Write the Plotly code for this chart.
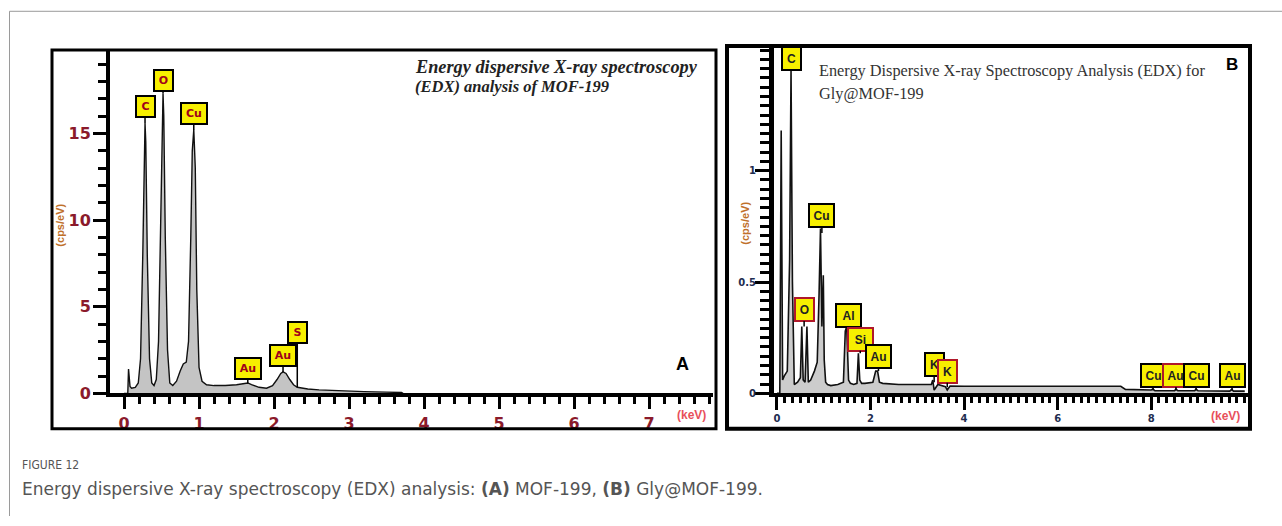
import plotly.graph_objects as go

W, H = 1282, 526

# ---------------- data: panel A (MOF-199) ----------------
A_kev = [0.00, 0.05, 0.06, 0.07, 0.08, 0.10, 0.15, 0.19, 0.22, 0.25, 0.27, 0.28, 0.29, 0.31, 0.34,
         0.37, 0.40, 0.43, 0.46, 0.49, 0.51, 0.52, 0.53, 0.55, 0.58, 0.61, 0.65, 0.70, 0.75, 0.79,
         0.83, 0.86, 0.89, 0.91, 0.93, 0.95, 0.97, 1.00, 1.04, 1.10, 1.20, 1.35, 1.50, 1.60, 1.65,
         1.70, 1.80, 1.90, 1.98, 2.04, 2.09, 2.12, 2.16, 2.21, 2.26, 2.31, 2.36, 2.45, 2.60, 2.85,
         3.20, 3.50, 3.70, 3.72]
A_cps = [0.0, 0.0, 1.4, 0.9, 0.4, 0.3, 0.35, 0.6, 2.0, 8.0, 14.0, 15.6, 14.5, 8.0, 2.0,
         0.6, 0.45, 0.8, 3.0, 10.0, 16.5, 17.3, 16.0, 9.0, 2.5, 0.6, 0.45, 0.7, 1.3, 1.7,
         1.8, 3.0, 9.0, 14.0, 15.2, 13.0, 6.0, 1.5, 0.7, 0.5, 0.45, 0.45, 0.5, 0.55, 0.6,
         0.5, 0.35, 0.3, 0.45, 0.8, 1.15, 1.24, 1.15, 0.8, 0.5, 0.35, 0.3, 0.25, 0.2, 0.15,
         0.1, 0.07, 0.05, 0.0]
A_lab_text = ["C", "O", "Cu", "Au", "Au", "S"]
A_lab_kev = [0.28, 0.52, 0.93, 1.65, 2.12, 2.31]
A_lab_cps = [15.6, 17.3, 15.2, 0.55, 1.24, 0.35]
A_xticks = [0, 1, 2, 3, 4, 5, 6, 7]
A_yticks = [0, 5, 10, 15]

# ---------------- data: panel B (Gly@MOF-199) ----------------
B_kev = [0.00, 0.06, 0.09, 0.12, 0.16, 0.22, 0.27, 0.30, 0.33, 0.37, 0.44, 0.50, 0.53, 0.56, 0.60,
         0.64, 0.67, 0.72, 0.80, 0.86, 0.90, 0.93, 0.96, 0.99, 1.01, 1.04, 1.08, 1.15, 1.30, 1.42,
         1.46, 1.49, 1.53, 1.57, 1.64, 1.71, 1.74, 1.77, 1.81, 1.88, 2.05, 2.11, 2.15, 2.19, 2.26,
         2.60, 3.20, 3.30, 3.33, 3.36, 3.44, 3.55, 3.60, 3.64, 3.70, 4.00, 5.50, 7.35, 7.45, 8.00,
         8.04, 8.08, 8.50, 8.53, 8.57, 8.93, 8.96, 9.00, 9.68, 9.72, 9.76, 10.0]
B_cps = [0.0, 0.0, 1.18, 0.06, 0.08, 0.10, 0.60, 1.45, 0.50, 0.04, 0.05, 0.07, 0.30, 0.06, 0.05,
         0.30, 0.05, 0.06, 0.10, 0.14, 0.45, 0.74, 0.30, 0.53, 0.15, 0.05, 0.04, 0.035, 0.04, 0.05,
         0.28, 0.30, 0.06, 0.045, 0.04, 0.045, 0.18, 0.06, 0.045, 0.045, 0.05, 0.10, 0.10, 0.05, 0.045,
         0.04, 0.04, 0.04, 0.06, 0.015, 0.04, 0.035, 0.03, 0.015, 0.033, 0.032, 0.032, 0.032, 0.018, 0.015,
         0.02, 0.012, 0.012, 0.02, 0.012, 0.012, 0.02, 0.012, 0.01, 0.018, 0.01, 0.01]
B_lab_text = ["C", "Cu", "O", "Al", "Si", "Au", "K", "K", "Cu", "Au", "Cu", "Au"]
B_lab_kev = [0.30, 0.96, 0.58, 1.52, 1.78, 2.17, 3.36, 3.64, 8.04, 8.53, 8.96, 9.73]
B_lab_cps = [1.45, 0.72, 0.30, 0.28, 0.18, 0.10, 0.05, 0.027, 0.013, 0.013, 0.013, 0.013]
B_lab_red = [False, False, True, False, True, False, False, True, False, True, False, False]
B_xticks = [0, 2, 4, 6, 8]
B_yticks = [0, 0.5, 1]

assert len(A_kev) == len(A_cps) and len(B_kev) == len(B_cps)

# ---------------- helpers (pixel -> paper) ----------------
def px(x):
    return x / W

def py(y):
    return 1 - y / H

# label offsets (pixels, style only)
A_lab_dy = [-16, -13, -16, -15, -16, -55]
B_lab_dy = [-12, -18, -17, -16, -14, -15, -18, -16, -15, -15, -15, -15]

MAROON = "#8b1a2b"
NAVY = "#1e2d50"
ORANGE = "#c0702a"
PINK = "#e8505b"
YELLOW = "#f7ef00"

fig = go.Figure()

fig.add_trace(go.Scatter(x=A_kev, y=A_cps, mode="lines", fill="tozeroy",
                         fillcolor="#c4c4c4", line=dict(color="#111", width=1.4),
                         xaxis="x", yaxis="y", hoverinfo="skip", showlegend=False))
fig.add_trace(go.Scatter(x=B_kev, y=B_cps, mode="lines", fill="tozeroy",
                         fillcolor="#cccccc", line=dict(color="#111", width=1.6),
                         xaxis="x2", yaxis="y2", hoverinfo="skip", showlegend=False))

ax_common = dict(showgrid=False, zeroline=False, showline=True, linecolor="black",
                 ticks="outside", tickcolor="black", fixedrange=True)

fig.update_layout(
    width=W, height=H, autosize=False,
    margin=dict(l=0, r=0, t=0, b=0),
    paper_bgcolor="white", plot_bgcolor="white",
    xaxis=dict(**ax_common, domain=[px(110), px(713)], range=[-0.187, 7.853], anchor="y",
               linewidth=4, tickmode="array", tickvals=A_xticks, ticklen=12, tickwidth=3,
               minor=dict(dtick=0.2, tick0=0, ticklen=7, tickwidth=3, ticks="outside", tickcolor="black"),
               tickfont=dict(family="DejaVu Sans", size=16, color=MAROON, weight="bold")),
    yaxis=dict(**ax_common, domain=[py(401), py(52)], range=[0, 19.75], anchor="x",
               linewidth=4, tickmode="array", tickvals=A_yticks, ticklen=13, tickwidth=3,
               ticklabelstandoff=-1,
               minor=dict(dtick=1, tick0=0, ticklen=8, tickwidth=3, ticks="outside", tickcolor="black"),
               tickfont=dict(family="DejaVu Sans", size=16, color=MAROON, weight="bold")),
    xaxis2=dict(**ax_common, domain=[px(774), px(1248)], range=[-0.064, 10.07], anchor="y2",
                linewidth=4, tickmode="array", tickvals=B_xticks, ticklen=13, tickwidth=3,
                minor=dict(dtick=1/6, tick0=0, ticklen=6, tickwidth=3, ticks="outside", tickcolor="black"),
                tickfont=dict(family="DejaVu Sans", size=10, color=NAVY, weight="bold")),
    yaxis2=dict(**ax_common, domain=[py(401), py(48)], range=[0, 1.555], anchor="x2",
                linewidth=5, tickmode="array", tickvals=B_yticks, ticklen=14, tickwidth=3,
                ticklabelstandoff=-3,
                minor=dict(dtick=0.5/12, tick0=0, ticklen=9, tickwidth=3, ticks="outside", tickcolor="black"),
                tickfont=dict(family="DejaVu Sans", size=10, color=NAVY, weight="bold")),
)

shapes = [
    # outer card border
    dict(type="line", xref="paper", yref="paper", x0=px(9.5), x1=px(9.5), y0=0, y1=py(11.5),
         line=dict(color="#9a9a9a", width=1)),
    dict(type="line", xref="paper", yref="paper", x0=px(9.5), x1=1, y0=py(11.5), y1=py(11.5),
         line=dict(color="#9a9a9a", width=1)),
    # panel frames
    dict(type="rect", xref="paper", yref="paper", x0=px(52), x1=px(716), y0=py(437), y1=py(51),
         line=dict(color="black", width=3)),
    dict(type="rect", xref="paper", yref="paper", x0=px(727), x1=px(1250), y0=py(437), y1=py(47),
         line=dict(color="black", width=4)),
]
fig.update_layout(shapes=shapes)

ann = []
# element labels, panel A
for t, xk, yc, dy in zip(A_lab_text, A_lab_kev, A_lab_cps, A_lab_dy):
    ann.append(dict(xref="x", yref="y", x=xk, y=yc, text=t, showarrow=True, arrowhead=0,
                    arrowwidth=1.5, arrowcolor="black", ax=0, ay=dy,
                    bgcolor=YELLOW, bordercolor="black", borderwidth=2, borderpad=1,
                    width=8 + 7 * len(t), height=17,
                    font=dict(family="DejaVu Sans", size=11, color="#a0001a", weight="bold")))
# element labels, panel B
for t, xk, yc, dy, red in zip(B_lab_text, B_lab_kev, B_lab_cps, B_lab_dy, B_lab_red):
    ann.append(dict(xref="x2", yref="y2", x=xk, y=yc, text=t, showarrow=True, arrowhead=0,
                    arrowwidth=1.5, arrowcolor="black", ax=0, ay=dy,
                    bgcolor=YELLOW, bordercolor="#b0182a" if red else "black", borderwidth=2,
                    borderpad=1, width=9 + 6 * len(t), height=19,
                    font=dict(family="Liberation Sans", size=12, color="#222", weight="bold")))

def txt(x, y, s, size, color, family="Liberation Sans", xanchor="center", yanchor="middle",
        angle=0, align="center"):
    ann.append(dict(xref="paper", yref="paper", x=px(x), y=py(y), text=s, showarrow=False,
                    xanchor=xanchor, yanchor=yanchor, textangle=angle, align=align,
                    font=dict(family=family, size=size, color=color)))

txt(413, 68, "<b><i>Energy dispersive X-ray spectroscopy</i></b>",
    18.3, "#222", family="Liberation Serif", xanchor="left")
txt(413, 88, "<b><i>(EDX) analysis of MOF-199</i></b>",
    16.5, "#222", family="Liberation Serif", xanchor="left")
txt(817, 72, "Energy Dispersive X-ray Spectroscopy Analysis (EDX) for",
    16.3, "#333", family="Liberation Serif", xanchor="left")
txt(817, 95, "Gly@MOF-199",
    16.3, "#333", family="Liberation Serif", xanchor="left")
txt(682, 371, "<b>A</b>", 18, "black")
txt(1232, 66, "<b>B</b>", 17, "black")
txt(691, 423, "<b>(keV)</b>", 12, PINK)
txt(1225, 424, "<b>(keV)</b>", 12, PINK)
txt(60, 230, "<b>(cps/eV)</b>", 11, ORANGE, angle=-90)
txt(745, 228, "<b>(cps/eV)</b>", 11, ORANGE, angle=-90)
txt(20, 474, "FIGURE 12", 12, "#555", family="Liberation Sans Narrow, DejaVu Sans Condensed",
    xanchor="left")
txt(20, 498, "Energy dispersive X-ray spectroscopy (EDX) analysis: <b>(A)</b> MOF-199, "
    "<b>(B)</b> Gly@MOF-199.", 17, "#555", family="DejaVu Sans", xanchor="left")

fig.update_layout(annotations=ann)

fig.write_html("out.html")
